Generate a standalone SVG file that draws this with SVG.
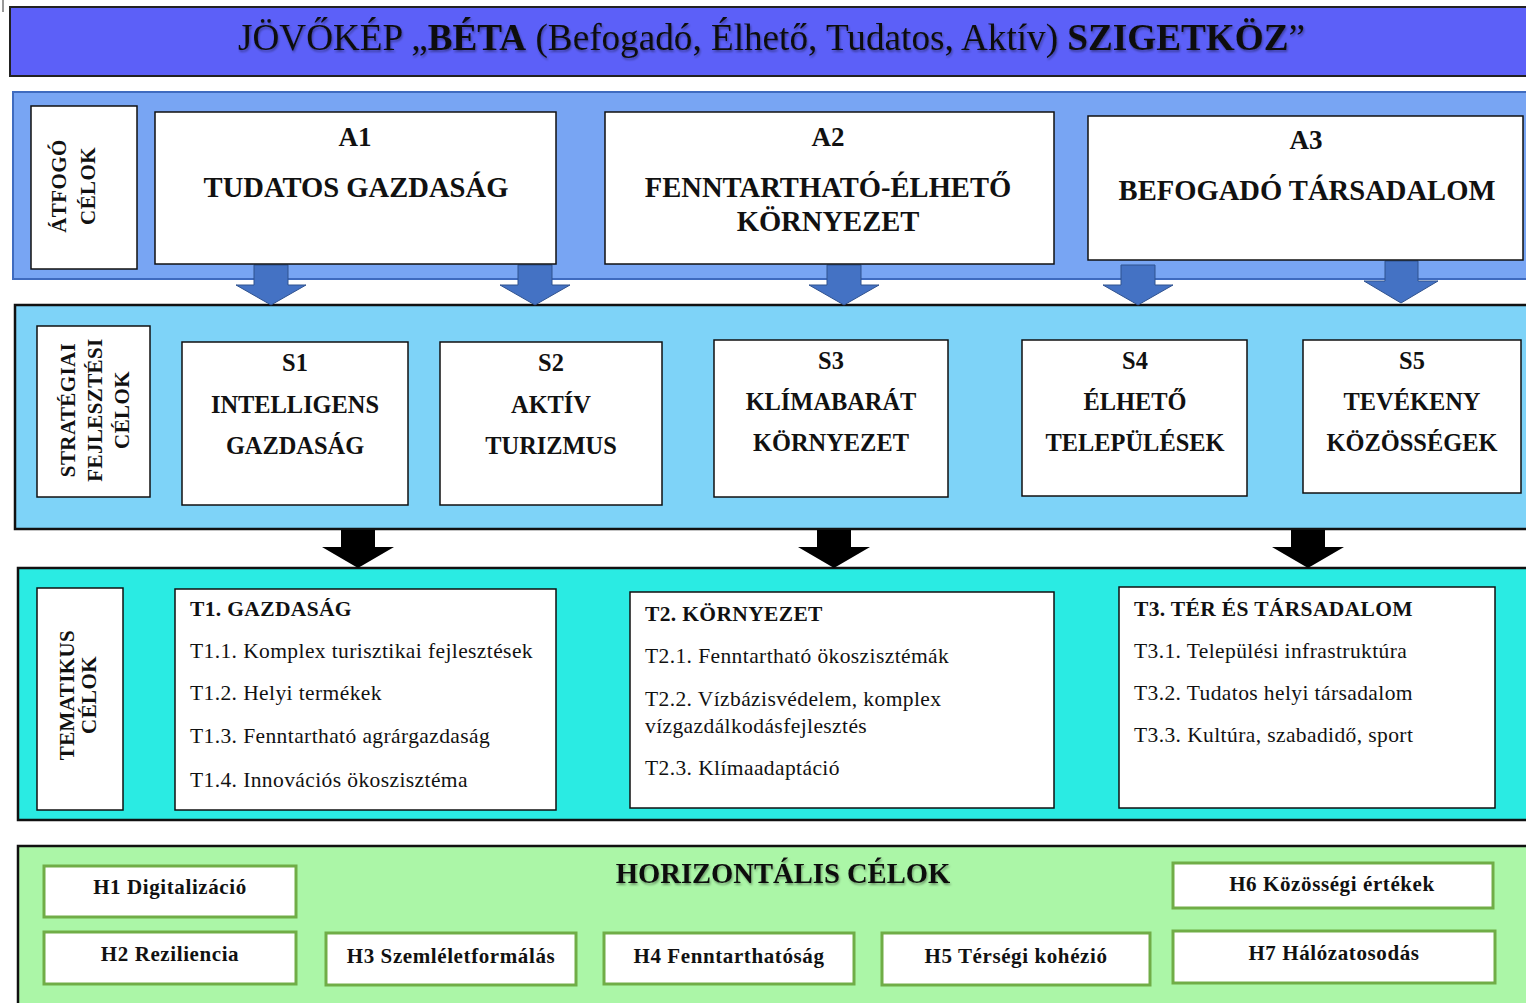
<svg xmlns="http://www.w3.org/2000/svg" width="1526" height="1003" viewBox="0 0 1526 1003">
<defs>
<style>
.serif{font-family:"Liberation Serif","Times New Roman",serif;fill:#111}
.b{font-weight:bold}
.box{fill:#fff;stroke:#111;stroke-width:1.5}
.hbox{fill:#fff;stroke:#70ad47;stroke-width:3}
.band{stroke:#111;stroke-width:2.5}
.barrow{fill:#4472c4;stroke:#2f528f;stroke-width:1}
.karrow{fill:#000}
.alab{font-size:27px;text-anchor:middle}
.aname{font-size:28.6px;text-anchor:middle}
.slab{font-size:24.4px;text-anchor:middle}
.rot{font-size:21px;text-anchor:middle;letter-spacing:0.4px}
.ttl{font-size:21.5px;letter-spacing:0.35px}
.it{font-size:21.5px;letter-spacing:0.4px}
.h{font-size:21px;text-anchor:middle;letter-spacing:0.6px}
</style>
<filter id="sh" x="-5%" y="-20%" width="110%" height="150%">
<feDropShadow dx="1" dy="2" stdDeviation="1" flood-color="#000" flood-opacity="0.35"/>
</filter>
</defs>
<rect width="1526" height="1003" fill="#fff"/>
<line x1="3" y1="0" x2="3" y2="12" stroke="#333" stroke-width="1"/>

<g id="title">
<rect x="10" y="7" width="1530" height="69" fill="#5c60f8" stroke="#222" stroke-width="2"/>
<text class="serif" x="238" y="50" font-size="37" textLength="1067" lengthAdjust="spacingAndGlyphs" filter="url(#sh)">JÖVŐKÉP „<tspan class="b">BÉTA</tspan> (Befogadó, Élhető, Tudatos, Aktív) <tspan class="b">SZIGETKÖZ</tspan>”</text>
</g>

<g id="band-atfogo">
<rect x="13" y="92" width="1530" height="187" fill="#78a5f3" stroke="#3f6bbf" stroke-width="2"/>
</g>
<g id="band-strategiai">
<rect class="band" x="15" y="305" width="1530" height="224" fill="#7ed3f8"/>
</g>
<g id="band-tematikus">
<rect class="band" x="18" y="568" width="1530" height="252" fill="#2aebe3"/>
</g>
<g id="band-horizontalis">
<rect class="band" x="18" y="846" width="1530" height="180" fill="#abf6a7"/>
<text class="serif b" x="783" y="883" font-size="28.6" text-anchor="middle" filter="url(#sh)">HORIZONTÁLIS CÉLOK</text>
</g>

<g id="connectors">
<polygon class="barrow" points="254,265 288,265 288,285 306,285 271,305 236,285 254,285"/>
<polygon class="barrow" points="518,265 552,265 552,285 570,285 535,305 500,285 518,285"/>
<polygon class="barrow" points="827,265 861,265 861,285 879,285 844,305 809,285 827,285"/>
<polygon class="barrow" points="1121,265 1155,265 1155,285 1173,285 1138,305 1103,285 1121,285"/>
<polygon class="barrow" points="1385,261 1418,261 1418,281 1438,281 1401,303 1364,281 1385,281"/>
<polygon class="karrow" points="341,530 375,530 375,547 394,547 358,568 322,547 341,547"/>
<polygon class="karrow" points="817,530 851,530 851,547 870,547 834,568 798,547 817,547"/>
<polygon class="karrow" points="1291,530 1325,530 1325,547 1344,547 1308,568 1272,547 1291,547"/>
</g>

<g id="label-atfogo">
<rect class="box" x="31" y="106" width="106" height="163"/>
<text class="serif b rot" transform="translate(66,186) rotate(-90)">ÁTFOGÓ</text>
<text class="serif b rot" transform="translate(95,186) rotate(-90)">CÉLOK</text>
</g>
<g id="A1">
<rect class="box" x="155" y="112" width="401" height="152"/>
<text class="serif b alab" x="355" y="146">A1</text>
<text class="serif b aname" x="356" y="197">TUDATOS GAZDASÁG</text>
</g>
<g id="A2">
<rect class="box" x="605" y="112" width="449" height="152"/>
<text class="serif b alab" x="828" y="146">A2</text>
<text class="serif b aname" x="828" y="197">FENNTARTHATÓ-ÉLHETŐ</text>
<text class="serif b aname" x="828" y="231">KÖRNYEZET</text>
</g>
<g id="A3">
<rect class="box" x="1088" y="116" width="435" height="144"/>
<text class="serif b alab" x="1306" y="149">A3</text>
<text class="serif b aname" x="1307" y="200">BEFOGADÓ TÁRSADALOM</text>
</g>

<g id="label-strategiai">
<rect class="box" x="37" y="326" width="113" height="171"/>
<text class="serif b rot" transform="translate(75,410) rotate(-90)">STRATÉGIAI</text>
<text class="serif b rot" transform="translate(102,410) rotate(-90)">FEJLESZTÉSI</text>
<text class="serif b rot" transform="translate(129,410) rotate(-90)">CÉLOK</text>
</g>
<g id="S1">
<rect class="box" x="182" y="342" width="226" height="163"/>
<text class="serif b slab" x="295" y="371">S1</text>
<text class="serif b slab" x="295" y="413">INTELLIGENS</text>
<text class="serif b slab" x="295" y="454">GAZDASÁG</text>
</g>
<g id="S2">
<rect class="box" x="440" y="342" width="222" height="163"/>
<text class="serif b slab" x="551" y="371">S2</text>
<text class="serif b slab" x="551" y="413">AKTÍV</text>
<text class="serif b slab" x="551" y="454">TURIZMUS</text>
</g>
<g id="S3">
<rect class="box" x="714" y="340" width="234" height="157"/>
<text class="serif b slab" x="831" y="369">S3</text>
<text class="serif b slab" x="831" y="410">KLÍMABARÁT</text>
<text class="serif b slab" x="831" y="451">KÖRNYEZET</text>
</g>
<g id="S4">
<rect class="box" x="1022" y="340" width="225" height="156"/>
<text class="serif b slab" x="1135" y="369">S4</text>
<text class="serif b slab" x="1135" y="410">ÉLHETŐ</text>
<text class="serif b slab" x="1135" y="451">TELEPÜLÉSEK</text>
</g>
<g id="S5">
<rect class="box" x="1303" y="340" width="218" height="153"/>
<text class="serif b slab" x="1412" y="369">S5</text>
<text class="serif b slab" x="1412" y="410">TEVÉKENY</text>
<text class="serif b slab" x="1412" y="451">KÖZÖSSÉGEK</text>
</g>

<g id="label-tematikus">
<rect class="box" x="37" y="588" width="86" height="222"/>
<text class="serif b rot" transform="translate(74,695) rotate(-90)">TEMATIKUS</text>
<text class="serif b rot" transform="translate(96,695) rotate(-90)">CÉLOK</text>
</g>
<g id="T1">
<rect class="box" x="175" y="589" width="381" height="221"/>
<text class="serif b ttl" x="190" y="616">T1. GAZDASÁG</text>
<text class="serif it" x="190" y="658">T1.1. Komplex turisztikai fejlesztések</text>
<text class="serif it" x="190" y="700">T1.2. Helyi termékek</text>
<text class="serif it" x="190" y="743">T1.3. Fenntartható agrárgazdaság</text>
<text class="serif it" x="190" y="787">T1.4. Innovációs ökoszisztéma</text>
</g>
<g id="T2">
<rect class="box" x="630" y="592" width="424" height="216"/>
<text class="serif b ttl" x="645" y="621">T2. KÖRNYEZET</text>
<text class="serif it" x="645" y="663">T2.1. Fenntartható ökoszisztémák</text>
<text class="serif it" x="645" y="706">T2.2. Vízbázisvédelem, komplex</text>
<text class="serif it" x="645" y="733">vízgazdálkodásfejlesztés</text>
<text class="serif it" x="645" y="775">T2.3. Klímaadaptáció</text>
</g>
<g id="T3">
<rect class="box" x="1119" y="587" width="376" height="221"/>
<text class="serif b ttl" x="1134" y="616">T3. TÉR ÉS TÁRSADALOM</text>
<text class="serif it" x="1134" y="658">T3.1. Települési infrastruktúra</text>
<text class="serif it" x="1134" y="700">T3.2. Tudatos helyi társadalom</text>
<text class="serif it" x="1134" y="742">T3.3. Kultúra, szabadidő, sport</text>
</g>

<g id="H1">
<rect class="hbox" x="44" y="866" width="252" height="51"/>
<text class="serif b h" x="170" y="894">H1 Digitalizáció</text>
</g>
<g id="H2">
<rect class="hbox" x="44" y="932" width="252" height="52"/>
<text class="serif b h" x="170" y="961">H2 Reziliencia</text>
</g>
<g id="H3">
<rect class="hbox" x="326" y="933" width="250" height="52"/>
<text class="serif b h" x="451" y="963">H3 Szemléletformálás</text>
</g>
<g id="H4">
<rect class="hbox" x="604" y="933" width="250" height="51"/>
<text class="serif b h" x="729" y="963">H4 Fenntarthatóság</text>
</g>
<g id="H5">
<rect class="hbox" x="882" y="933" width="268" height="52"/>
<text class="serif b h" x="1016" y="963">H5 Térségi kohézió</text>
</g>
<g id="H6">
<rect class="hbox" x="1173" y="863" width="320" height="45"/>
<text class="serif b h" x="1332" y="891">H6 Közösségi értékek</text>
</g>
<g id="H7">
<rect class="hbox" x="1173" y="931" width="322" height="52"/>
<text class="serif b h" x="1334" y="960">H7 Hálózatosodás</text>
</g>
</svg>
